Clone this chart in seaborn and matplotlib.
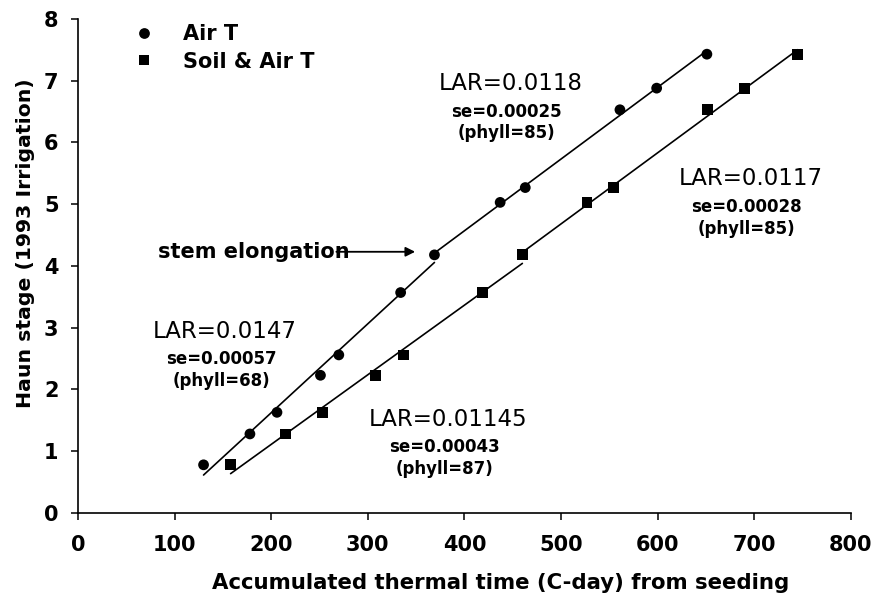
import numpy as np
import pandas as pd
import matplotlib
matplotlib.use('Agg')
import matplotlib.pyplot as plt
import seaborn as sns

# Haun stage observations (same stages for both temperature bases)
haun_stage = [0.78, 1.28, 1.63, 2.23, 2.56, 3.57, 4.18, 5.03, 5.27, 6.53, 6.88, 7.43]
# Accumulated thermal time (C-day) from seeding
tt_air = [130, 178, 206, 251, 270, 334, 369, 437, 463, 561, 599, 651]
tt_soil_air = [158, 215, 253, 308, 337, 419, 460, 527, 554, 652, 690, 745]
treatments = ['Air T', 'Soil & Air T']

# points before / after stem elongation (the 7th point is shared)
n_early = 7

df = pd.DataFrame({
    'tt': tt_air + tt_soil_air,
    'haun': haun_stage + haun_stage,
    'treatment': [treatments[0]] * len(tt_air) + [treatments[1]] * len(tt_soil_air),
    'idx': list(range(len(tt_air))) + list(range(len(tt_soil_air))),
})

sns.set_style('ticks', {'text.color': 'black', 'axes.labelcolor': 'black',
                        'xtick.color': 'black', 'ytick.color': 'black',
                        'axes.edgecolor': 'black'})
plt.rcParams['font.family'] = ['DejaVu Sans']

fig = plt.figure(figsize=(8.9, 5.99), dpi=100)
ax = fig.add_axes([0.0876, 0.1436, 0.8684, 0.8247])

sns.scatterplot(data=df, x='tt', y='haun', hue='treatment', style='treatment',
                palette=['black', 'black'], markers={'Air T': 'o', 'Soil & Air T': 's'},
                s=60, edgecolor='black', linewidth=0, ax=ax, zorder=3)

# fitted segments before and after stem elongation
for trt in treatments:
    sub = df[df['treatment'] == trt]
    for seg in [sub[sub['idx'] < n_early], sub[sub['idx'] >= n_early - 1]]:
        sns.regplot(data=seg, x='tt', y='haun', scatter=False, ci=None, truncate=True,
                    color='black', line_kws={'lw': 1.2}, ax=ax)

ax.set_xlim(0, 800)
ax.set_ylim(0, 8)
ax.set_xticks(range(0, 801, 100))
ax.set_yticks(range(0, 9))
ax.tick_params(axis='both', direction='out', length=5, width=1.1, labelsize=15)
ax.tick_params(axis='x', pad=11)
ax.tick_params(axis='y', pad=9)
for lab in ax.get_xticklabels() + ax.get_yticklabels():
    lab.set_fontweight('bold')
sns.despine(ax=ax)
for sp in ['left', 'bottom']:
    ax.spines[sp].set_linewidth(1.2)
    ax.spines[sp].set_color('black')

ax.set_xlabel('Accumulated thermal time (C-day) from seeding', fontsize=15.3,
              fontweight='bold')
ax.xaxis.set_label_coords(0.547, -0.121)
ax.set_ylabel('Haun stage (1993 Irrigation)', fontsize=14.7, fontweight='bold')
ax.yaxis.set_label_coords(-0.056, 0.547)

handles, labels = ax.get_legend_handles_labels()
ax.legend(handles, labels, loc='upper left', bbox_to_anchor=(0.045, 1.01), frameon=False,
          prop={'size': 15, 'weight': 'bold'}, handletextpad=0.85, labelspacing=0.35,
          borderpad=0, markerscale=1.0)

# slope annotations
notes = [
    (448, 6.95, 6.50, 6.16, 'LAR=0.0118', 'se=0.00025', '(phyll=85)'),
    (696, 5.41, 4.96, 4.60, 'LAR=0.0117', 'se=0.00028', '(phyll=85)'),
    (152, 2.94, 2.50, 2.14, 'LAR=0.0147', 'se=0.00057', '(phyll=68)'),
    (383, 1.52, 1.07, 0.71, 'LAR=0.01145', 'se=0.00043', '(phyll=87)'),
]
for x, y1, y2, y3, t1, t2, t3 in notes:
    ax.text(x, y1, t1, ha='center', va='center', fontsize=16.5)
    ax.text(x - 4, y2, t2, ha='center', va='center', fontsize=12, fontweight='bold')
    ax.text(x - 4, y3, t3, ha='center', va='center', fontsize=12, fontweight='bold')

ax.annotate('stem elongation', xy=(349, 4.23), xytext=(83, 4.23), ha='left', va='center',
            fontsize=15, fontweight='bold',
            arrowprops=dict(arrowstyle='-|>', color='black', lw=1.3, mutation_scale=14,
                            relpos=(0.93, 0.5), patchA=None, shrinkA=0, shrinkB=0))

fig.savefig('out.png', dpi=100)
